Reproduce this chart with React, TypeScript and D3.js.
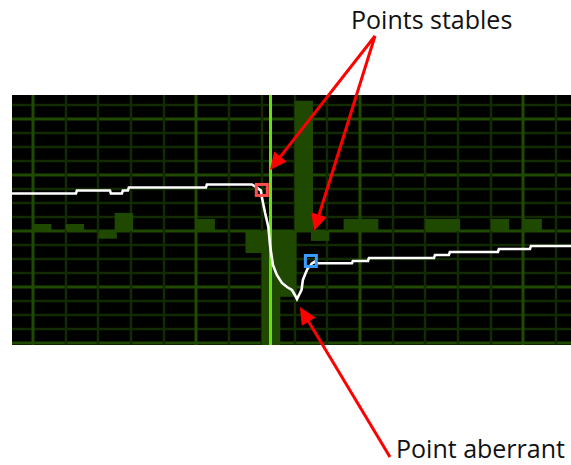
import React from "react";
import * as d3 from "d3";

// ---- data ----
const barSlots = [0, 2, 4, 5, 10, 13, 14, 15, 16, 17, 19, 20, 24, 25, 28, 30];
const barValues = [0.5, 0.5, -0.55, 1.29, 0.86, -1.57, -8.4, -4.7, 9.3, -0.71, 0.86, 0.86, 0.86, 0.86, 0.86, 0.86];

const lineX = [-1.28, 2.63, 2.69, 4.71, 4.77, 5.44, 5.5, 5.81, 5.87, 10.58, 10.64, 13.39, 13.7, 13.94, 14.0, 14.2, 14.4, 14.5, 14.68, 14.92, 15.23, 15.54, 15.84, 16.02, 16.15, 16.43, 16.51, 16.68, 16.82, 16.94, 17.06, 17.25, 17.31, 19.51, 19.57, 20.49, 20.55, 24.53, 24.59, 25.44, 25.5, 28.44, 28.5, 30.4, 30.46, 32.91];
const lineY = [2.68, 2.68, 2.89, 2.89, 2.68, 2.68, 2.89, 2.89, 3.11, 3.11, 3.32, 3.32, 3.1, 2.9, 2.43, 1.29, 0.29, -1.0, -2.43, -3.14, -3.71, -4.0, -4.21, -4.57, -4.86, -4.21, -3.5, -3.0, -2.64, -2.54, -2.32, -2.18, -2.3, -2.3, -2.14, -2.14, -1.93, -1.93, -1.71, -1.71, -1.5, -1.5, -1.29, -1.29, -1.07, -1.07];

const cursorX = 14.53;
const stablePoints = [
  { x: 14.0, y: 2.93, color: "#ff4d4d" },
  { x: 17.0, y: -2.14, color: "#3a9cff" },
];

const xGridTicks = d3.range(0, 33, 2);
const yGridTicks = d3.range(-8, 10, 1);

const labels = [
  { text: "Points stables", x: 351, y: 29 },
  { text: "Point aberrant", x: 396, y: 458 },
];
const arrows = [
  { from: [375, 36], tipX: 14.5, tipY: 4.36 },
  { from: [375, 36], tipX: 17.19, tipY: 0.0 },
  { from: [390, 457], tipX: 16.33, tipY: -5.43 },
];

const W = 571;
const H = 465;
const plot = { left: 12, right: 571, top: 95, bottom: 345 };

export default function App() {
  const x = d3.scaleLinear().domain([-1.28, 32.91]).range([plot.left, plot.right]);
  const y = d3.scaleLinear().domain([-8.14, 9.71]).range([plot.bottom, plot.top]);
  const slotW = x(1) - x(0);
  const barW = slotW * 1.13;

  const linePath = d3
    .line<number>()
    .x((_, i) => x(lineX[i]))
    .y((_, i) => y(lineY[i]))(lineX);

  const minor = "#122b00";
  const major = "#1f4a00";

  const arrowEls = arrows.map((a, i) => {
    const [sx, sy] = a.from;
    const tx = x(a.tipX);
    const ty = y(a.tipY);
    const dx = tx - sx;
    const dy = ty - sy;
    const len = Math.hypot(dx, dy);
    const ux = dx / len;
    const uy = dy / len;
    const headL = 17;
    const headW = 8;
    const bx = tx - ux * headL;
    const by = ty - uy * headL;
    const p1 = [bx - uy * headW, by + ux * headW];
    const p2 = [bx + uy * headW, by - ux * headW];
    return (
      <g key={i}>
        <line x1={sx} y1={sy} x2={bx + ux * 2} y2={by + uy * 2} stroke="#ff0000" strokeWidth={3} />
        <polygon points={`${tx},${ty} ${p1[0]},${p1[1]} ${p2[0]},${p2[1]}`} fill="#ff0000" />
      </g>
    );
  });

  return (
    <svg width={W} height={H} style={{ position: "absolute", left: 0, top: 0, background: "#fff" }}>
      <defs>
        <clipPath id="plotClip">
          <rect x={plot.left} y={plot.top} width={plot.right - plot.left} height={plot.bottom - plot.top} />
        </clipPath>
      </defs>
      <rect x={plot.left} y={plot.top} width={plot.right - plot.left} height={plot.bottom - plot.top} fill="#000" />
      <g clipPath="url(#plotClip)">
        {yGridTicks.map((t) => {
          const yy = Math.round(y(t));
          const isMajor = t % 4 === 0;
          return (
            <line key={"h" + t} x1={plot.left} x2={plot.right} y1={yy} y2={yy} stroke={isMajor ? major : minor} strokeWidth={isMajor ? 3 : 2.5} />
          );
        })}
        {xGridTicks.map((t) => {
          const xx = Math.round(x(t));
          const isMajor = t % 10 === 0;
          return (
            <line key={"v" + t} x1={xx} x2={xx} y1={plot.top} y2={plot.bottom} stroke={isMajor ? major : minor} strokeWidth={isMajor ? 3 : 2.5} />
          );
        })}
        {barSlots.map((s, i) => {
          const v = barValues[i];
          const y0 = y(0);
          const y1 = y(v);
          return (
            <rect key={"b" + i} x={x(s)} width={barW} y={Math.min(y0, y1)} height={Math.abs(y1 - y0)} fill="#1f4800" />
          );
        })}
        <line x1={x(cursorX)} x2={x(cursorX)} y1={plot.top} y2={plot.bottom} stroke="#64e20a" strokeWidth={3} />
        <path d={linePath || ""} fill="none" stroke="#ffffff" strokeWidth={2.6} strokeLinejoin="miter" />
        {stablePoints.map((p, i) => (
          <rect key={"m" + i} x={x(p.x) - 5.5} y={y(p.y) - 5.5} width={11} height={11} fill="none" stroke={p.color} strokeWidth={3} />
        ))}
      </g>
      {arrowEls}
      {labels.map((l, i) => (
        <text key={"t" + i} x={l.x} y={l.y} fontFamily="'Open Sans', sans-serif" fontSize={25} fill="#111">
          {l.text}
        </text>
      ))}
    </svg>
  );
}
